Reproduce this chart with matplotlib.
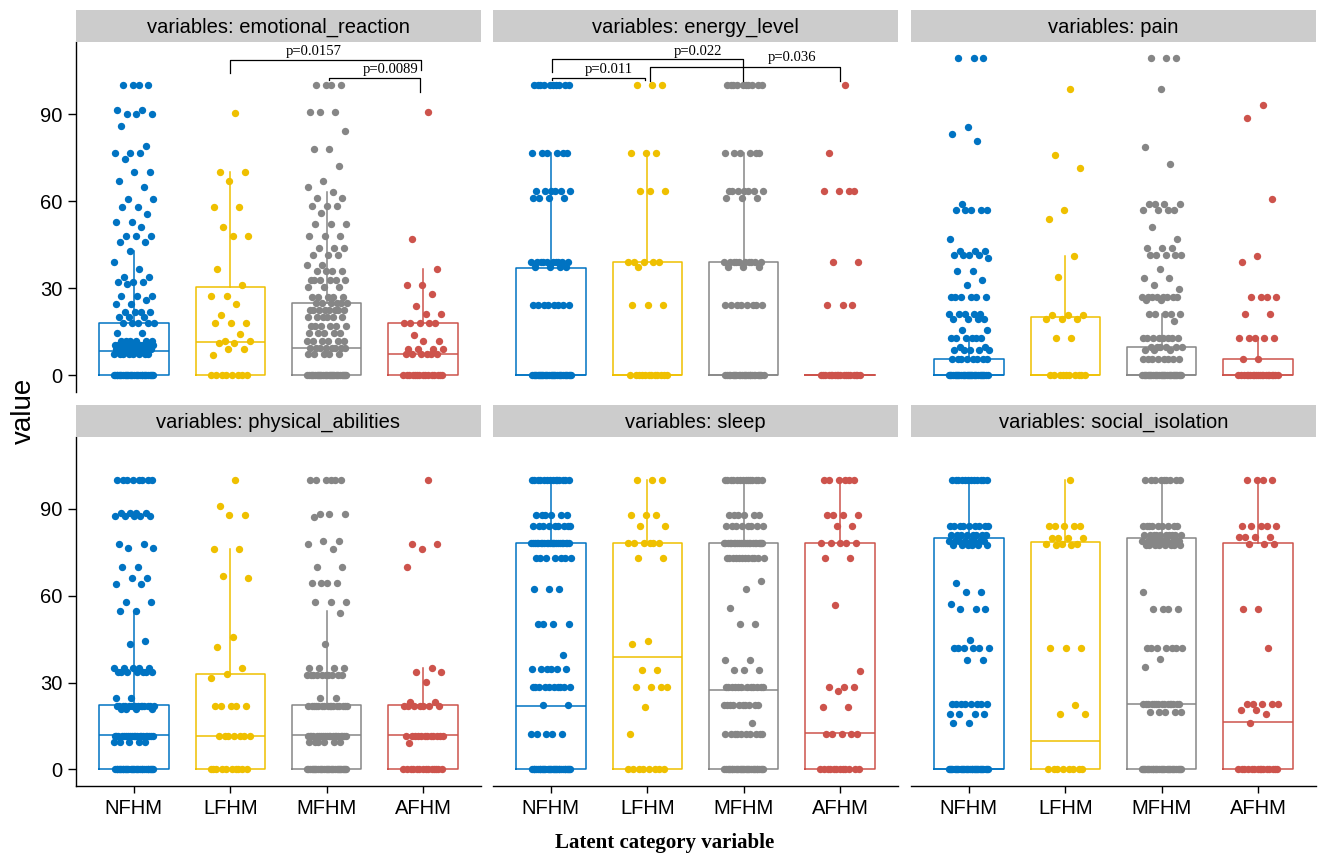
import matplotlib.pyplot as plt
import numpy as np

# Categorias y colores (paleta JCO)
cats = ['NFHM', 'LFHM', 'MFHM', 'AFHM']
colores = ['#0073C2', '#EFC000', '#868686', '#CD534C']

# ---- emotional_reaction: valores leidos y cuantas veces aparecen ----
emo_nfhm_v = [100, 91.5, 90, 86, 79, 76.5, 74.6, 70, 67, 65, 60.6, 58, 55.6, 53, 51, 48, 46, 43, 39, 36.5,
              34, 32, 31.5, 27.5, 26, 24.5, 22, 20, 18, 14.5, 12, 10.5, 9, 7.5, 0]
emo_nfhm_n = [4, 2, 3, 1, 1, 3, 1, 2, 1, 1, 2, 2, 1, 2, 1, 3, 2, 1, 1, 1,
              2, 3, 1, 3, 1, 2, 4, 3, 5, 2, 6, 10, 8, 8, 30]
emo_lfhm_v = [90.5, 70, 67, 58, 51, 48, 36.6, 31, 27.5, 24.6, 20.8, 18, 14.4, 12, 11, 9.2, 7, 0]
emo_lfhm_n = [1, 2, 1, 2, 1, 2, 1, 1, 2, 1, 1, 3, 1, 2, 2, 2, 1, 8]
emo_mfhm_v = [100, 90.6, 84, 78, 72, 67, 65, 63, 61, 58.5, 56, 52, 48, 44, 41.5, 38, 36, 33, 30.5, 27,
              25, 22.5, 20, 17, 14.5, 12, 9.5, 7.3, 0]
emo_mfhm_n = [4, 3, 1, 2, 1, 1, 1, 1, 2, 3, 1, 3, 3, 3, 3, 2, 4, 6, 3, 5,
              6, 8, 6, 6, 5, 6, 8, 5, 30]
emo_afhm_v = [90.6, 47, 36.6, 31, 28, 24, 21, 18, 14, 12, 9.2, 7.3, 0]
emo_afhm_n = [1, 1, 1, 2, 1, 1, 2, 5, 1, 2, 4, 6, 15]
# whisker bajo, Q1, mediana, Q3, whisker alto
emo_box = [[0, 0, 8.5, 17.9, 43], [0, 0, 11.5, 30.3, 70], [0, 0, 9.6, 25, 63], [0, 0, 7.3, 17.9, 36.6]]

# ---- energy_level ----
eng_nfhm_v = [100, 76.5, 63.4, 61.1, 39.2, 37.5, 24.2, 0]
eng_nfhm_n = [10, 6, 6, 4, 10, 4, 8, 30]
eng_lfhm_v = [100, 76.5, 63.4, 39.2, 37.5, 24.2, 0]
eng_lfhm_n = [3, 3, 3, 5, 1, 3, 12]
eng_mfhm_v = [100, 76.5, 63.4, 61.1, 39.2, 37.5, 24.2, 0]
eng_mfhm_n = [10, 6, 7, 3, 10, 3, 8, 25]
eng_afhm_v = [100, 76.5, 63.4, 39.2, 24.2, 0]
eng_afhm_n = [1, 1, 4, 2, 3, 18]
eng_box = [[0, 0, 0, 37.1, 76.5], [0, 0, 0, 39.2, 76.5], [0, 0, 0, 39.2, 76.5], [0, 0, 0, 0, 0]]

# ---- pain ----
pain_nfhm_v = [109.3, 85.7, 83, 80.8, 59, 57, 47, 43, 41.5, 40.5, 36, 33, 31, 27, 21, 19.6, 15.8, 13, 9.8, 8.9, 5.7, 0]
pain_nfhm_n = [3, 1, 1, 1, 1, 5, 1, 3, 4, 1, 2, 1, 1, 6, 5, 4, 2, 6, 2, 5, 8, 30]
pain_lfhm_v = [98.7, 76, 71.3, 57, 53.7, 41.2, 34, 20.7, 19.6, 13, 0]
pain_lfhm_n = [1, 1, 1, 1, 1, 1, 1, 3, 3, 2, 10]
pain_mfhm_v = [109.3, 98.7, 78.8, 72.7, 59, 57, 51, 47, 44, 41.5, 36.6, 33.5, 31, 29.7, 27, 26, 21, 18.8,
               13, 9.8, 8.9, 5.7, 0]
pain_mfhm_n = [3, 1, 1, 1, 4, 4, 1, 1, 3, 5, 1, 2, 1, 1, 8, 2, 5, 1,
               8, 6, 3, 8, 30]
pain_afhm_v = [93, 88.6, 60.6, 41.2, 38.9, 27, 21, 13, 5.7, 0]
pain_afhm_n = [1, 1, 1, 1, 1, 4, 2, 5, 2, 20]
pain_box = [[0, 0, 0, 5.7, 13], [0, 0, 0, 20, 41.2], [0, 0, 0, 9.8, 21], [0, 0, 0, 5.7, 13]]

# ---- physical_abilities ----
phy_nfhm_v = [100, 88.5, 87.5, 78, 76.4, 69.8, 66, 64, 58, 54.8, 44.4, 43.5, 35, 33.7, 24.7, 22, 21, 11.4, 9.5, 0]
phy_nfhm_n = [8, 4, 5, 2, 2, 2, 2, 2, 2, 2, 1, 1, 5, 7, 2, 14, 4, 20, 5, 30]
phy_lfhm_v = [100, 91, 87.8, 76.3, 66.9, 66, 45.6, 42.3, 35, 32.8, 31.7, 22, 11.4, 0]
phy_lfhm_n = [1, 1, 2, 2, 1, 1, 1, 1, 1, 1, 1, 5, 7, 10]
phy_mfhm_v = [100, 88.3, 87.3, 79, 78, 76.3, 69.8, 64.5, 58, 54, 43.3, 35, 32.5, 24.7, 22, 11.4, 9.5, 0]
phy_mfhm_n = [6, 3, 1, 2, 1, 1, 2, 4, 3, 1, 1, 4, 10, 2, 16, 20, 6, 30]
phy_afhm_v = [100, 78, 76.3, 69.8, 35, 33.7, 30.2, 23.3, 22, 11.4, 9, 0]
phy_afhm_n = [1, 2, 1, 1, 1, 2, 1, 2, 7, 12, 1, 14]
phy_box = [[0, 0, 11.8, 22.2, 54], [0, 0, 11.4, 33.1, 76], [0, 0, 11.8, 22.2, 54.8], [0, 0, 11.8, 22.2, 35]]

# ---- sleep ----
slp_nfhm_v = [100, 87.7, 84.1, 78.1, 72.9, 62.2, 50.2, 39.7, 34.8, 28.5, 22.2, 12.3, 0]
slp_nfhm_n = [14, 6, 9, 22, 7, 3, 4, 1, 6, 10, 2, 5, 30]
slp_lfhm_v = [100, 87.7, 84.1, 78.1, 72.9, 44.3, 43.5, 34.3, 28.5, 21.6, 12.3, 0]
slp_lfhm_n = [3, 3, 2, 6, 2, 1, 1, 2, 4, 1, 1, 8]
slp_mfhm_v = [100, 87.7, 84.1, 78.1, 72.9, 65.1, 62.3, 55.8, 50.2, 37.7, 34.3, 28.5, 22.2, 16, 12.3, 0]
slp_mfhm_n = [14, 6, 8, 22, 12, 1, 1, 1, 2, 2, 3, 12, 10, 1, 10, 30]
slp_afhm_v = [100, 87.7, 84.1, 78.1, 72.9, 56.8, 34, 28.5, 27.1, 21.6, 12.3, 0]
slp_afhm_n = [6, 4, 2, 5, 2, 1, 1, 3, 1, 2, 5, 12]
slp_box = [[0, 0, 21.9, 78.3, 100], [0, 0, 38.9, 78.3, 100], [0, 0, 27.3, 78.3, 100], [0, 0, 12.7, 78.3, 100]]

# ---- social_isolation ----
soc_nfhm_v = [100, 84.1, 81, 79, 77.5, 64.3, 61.4, 57.3, 55.4, 44.7, 42, 37.7, 22.5, 19.3, 16, 0]
soc_nfhm_n = [12, 9, 8, 8, 6, 1, 2, 1, 3, 1, 6, 2, 8, 4, 2, 30]
soc_lfhm_v = [100, 84.1, 80, 78, 77.5, 42, 22.2, 19.3, 0]
soc_lfhm_n = [1, 5, 4, 3, 2, 3, 1, 2, 8]
soc_mfhm_v = [100, 84.1, 81, 79, 77.5, 61.4, 55.4, 42, 38.3, 35.4, 22.5, 19.8, 0]
soc_mfhm_n = [9, 9, 10, 10, 8, 1, 4, 7, 1, 1, 15, 5, 30]
soc_afhm_v = [100, 84.1, 80.2, 77.9, 55.4, 42, 22.5, 20.4, 19.3, 16, 0]
soc_afhm_n = [4, 5, 4, 3, 2, 1, 5, 2, 1, 1, 15]
soc_box = [[0, 0, 0, 80, 100], [0, 0, 9.8, 78.5, 100], [0, 0, 22.5, 80, 100], [0, 0, 16.3, 78.1, 100]]

# Comparaciones significativas: (x1, x2, y, tick izq, tick der, texto, x texto, y texto)
emo_sig = [(2, 3.98, 108.7, 104.2, 105.0, 'p=0.0157', 2.86, 111.6),
           (3.02, 3.97, 102.4, 101.6, 97.5, 'p=0.0089', 3.66, 105.2)]
eng_sig = [(1.01, 2.99, 108.8, 104.4, 101.5, 'p=0.022', 2.52, 111.6),
           (1.01, 1.98, 102.5, 101.6, 101.6, 'p=0.011', 1.60, 105.3),
           (2.03, 4.0, 106.2, 101.5, 101.5, 'p=0.036', 3.50, 109.3)]

paneles = [
    ('emotional_reaction', [(emo_nfhm_v, emo_nfhm_n), (emo_lfhm_v, emo_lfhm_n), (emo_mfhm_v, emo_mfhm_n), (emo_afhm_v, emo_afhm_n)], emo_box, emo_sig),
    ('energy_level', [(eng_nfhm_v, eng_nfhm_n), (eng_lfhm_v, eng_lfhm_n), (eng_mfhm_v, eng_mfhm_n), (eng_afhm_v, eng_afhm_n)], eng_box, eng_sig),
    ('pain', [(pain_nfhm_v, pain_nfhm_n), (pain_lfhm_v, pain_lfhm_n), (pain_mfhm_v, pain_mfhm_n), (pain_afhm_v, pain_afhm_n)], pain_box, []),
    ('physical_abilities', [(phy_nfhm_v, phy_nfhm_n), (phy_lfhm_v, phy_lfhm_n), (phy_mfhm_v, phy_mfhm_n), (phy_afhm_v, phy_afhm_n)], phy_box, []),
    ('sleep', [(slp_nfhm_v, slp_nfhm_n), (slp_lfhm_v, slp_lfhm_n), (slp_mfhm_v, slp_mfhm_n), (slp_afhm_v, slp_afhm_n)], slp_box, []),
    ('social_isolation', [(soc_nfhm_v, soc_nfhm_n), (soc_lfhm_v, soc_lfhm_n), (soc_mfhm_v, soc_mfhm_n), (soc_afhm_v, soc_afhm_n)], soc_box, []),
]


def desplazamiento(n):
    """
    Jitter horizontal deterministico (secuencia aurea), +-0.21.
    """
    k = np.arange(1, n + 1)
    return ((k * 0.6180339887) % 1 - 0.5) * 0.42


W, H = 1321, 856
fig = plt.figure(figsize=(W / 100, H / 100), dpi=100)
plt.rcParams['font.family'] = 'Liberation Sans'

lefts = [76, 493, 911]
ancho = 405
filas = [(42, 392), (437, 786)]

for i, (nombre, grupos, cajas, sigs) in enumerate(paneles):
    fila, col = divmod(i, 3)
    top, bot = filas[fila]
    ax = fig.add_axes([lefts[col] / W, 1 - bot / H, ancho / W, (bot - top) / H])
    strip = fig.add_axes([lefts[col] / W, 1 - top / H, ancho / W, 32 / H])
    strip.set_facecolor('#CCCCCC')
    strip.set_xticks([])
    strip.set_yticks([])
    for s in strip.spines.values():
        s.set_visible(False)
    strip.text(0.5, 0.45, 'variables: ' + nombre, ha='center', va='center', fontsize=14.5,
               transform=strip.transAxes)

    # cajas
    for j in range(4):
        lo, q1, med, q3, hi = cajas[j]
        st = [dict(whislo=lo, q1=q1, med=med, q3=q3, whishi=hi)]
        ax.bxp(st, positions=[j + 1], widths=0.72, showcaps=False, showfliers=False,
               boxprops=dict(color=colores[j], linewidth=1.1),
               whiskerprops=dict(color=colores[j], linewidth=1.1),
               medianprops=dict(color=colores[j], linewidth=1.1), zorder=2)

    # puntos
    for j, (vals, cuenta) in enumerate(grupos):
        y = np.repeat(vals, cuenta)
        x = (j + 1) + desplazamiento(len(y))
        ax.scatter(x, y, s=28, color=colores[j], linewidths=0, zorder=3)

    # comparaciones
    for (x1, x2, yb, t1, t2, txt, xt, yt) in sigs:
        ax.plot([x1, x1, x2, x2], [t1, yb, yb, t2], color='black', linewidth=0.9, zorder=4)
        ax.text(xt, yt, txt, ha='center', va='center', fontsize=10.5, family='Liberation Serif')

    ax.set_xlim(0.4, 4.6)
    ax.set_ylim(-5.7, 114.8)
    ax.set_yticks([0, 30, 60, 90])
    ax.set_xticks([1, 2, 3, 4])
    ax.set_facecolor('white')
    ax.spines['top'].set_visible(False)
    ax.spines['right'].set_visible(False)
    ax.spines['left'].set_linewidth(1.0)
    ax.spines['bottom'].set_linewidth(1.0)
    ax.tick_params(axis='y', length=6, width=1.0, pad=3.5, labelsize=14.5)
    ax.tick_params(axis='x', length=5, width=1.0, pad=4, labelsize=14.5)
    if col == 0:
        ax.set_yticklabels(['0', '30', '60', '90'])
    else:
        ax.spines['left'].set_visible(False)
        ax.tick_params(axis='y', left=False, labelleft=False)
    if fila == 1:
        ax.set_xticklabels(cats)
    else:
        ax.spines['bottom'].set_visible(False)
        ax.tick_params(axis='x', bottom=False, labelbottom=False)

fig.text(24 / W, 1 - 411 / H, 'value', rotation=90, ha='center', va='center', fontsize=20)
fig.text(665 / W, 1 - 843 / H, 'Latent category variable', ha='center', va='center', fontsize=15,
         family='Liberation Serif', fontweight='bold')

plt.savefig('out.png', dpi=100)
